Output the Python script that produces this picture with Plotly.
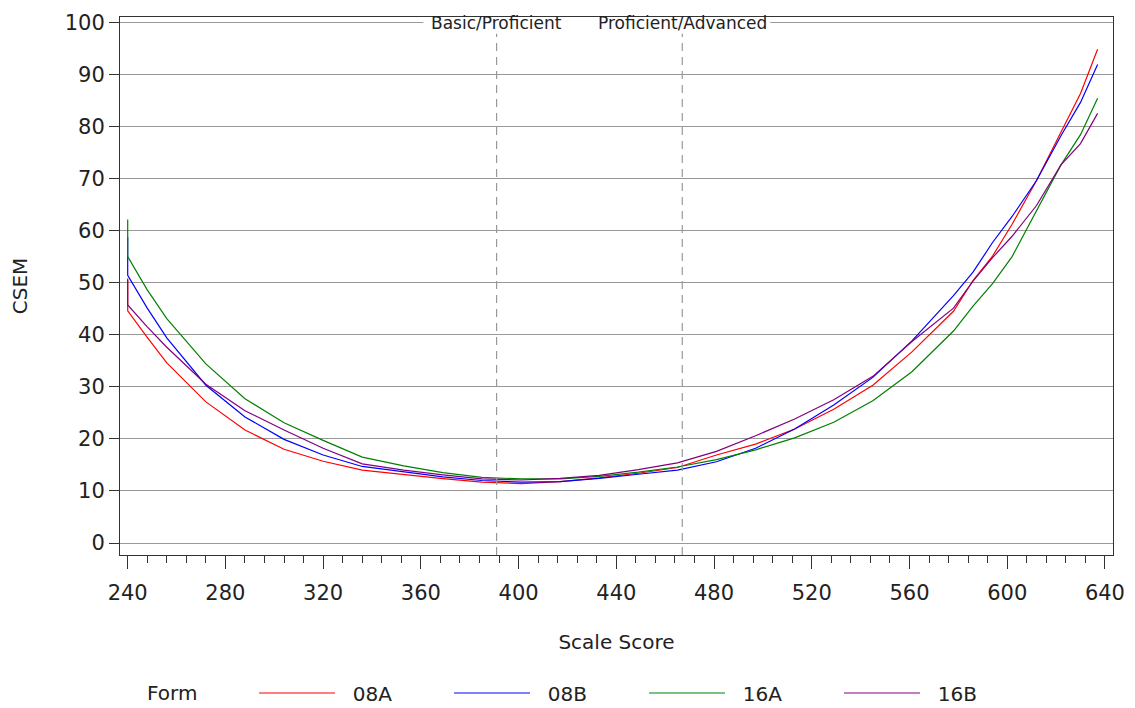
import plotly.graph_objects as go

# Scale score (x) values at which CSEM is plotted; first two points both at LOSS 240
scale_score = [240, 240, 248, 256, 272, 288, 304, 320, 336, 353, 369, 385, 401, 417, 433,
               449, 465, 481, 497, 513, 529, 545, 561, 578, 586, 594, 602, 612, 622, 630, 637]

csem_08A = [50.5, 44.6, 39.5, 34.6, 27.1, 21.7, 18.0, 15.7, 14.0, 13.1, 12.35, 11.7, 11.4, 11.8, 12.5,
            13.4, 14.5, 16.9, 19.0, 21.9, 25.7, 30.3, 36.7, 44.5, 50.4, 55.1, 61.2, 69.6, 78.8, 86.3, 94.8]
csem_08B = [58.7, 51.4, 45.1, 39.4, 30.3, 24.2, 19.9, 16.9, 14.7, 13.6, 12.7, 12.0, 11.7, 11.8, 12.4,
            13.2, 14.0, 15.6, 18.2, 21.9, 26.5, 31.8, 38.8, 47.5, 52.0, 57.7, 62.7, 69.6, 78.2, 84.6, 91.9]
csem_16A = [62.1, 55.0, 48.6, 43.1, 34.4, 27.7, 23.1, 19.7, 16.5, 14.8, 13.5, 12.6, 12.3, 12.3, 12.8,
            13.6, 14.6, 16.0, 17.9, 20.2, 23.2, 27.3, 32.9, 40.7, 45.5, 49.8, 55.0, 63.7, 72.6, 78.4, 85.4]
csem_16B = [50.8, 45.7, 41.5, 37.6, 30.5, 25.4, 21.7, 18.2, 15.2, 14.0, 13.1, 12.3, 12.1, 12.4, 13.0,
            14.1, 15.4, 17.6, 20.6, 23.8, 27.5, 32.0, 38.7, 45.1, 50.3, 54.8, 58.9, 64.8, 72.6, 76.7, 82.5]

forms = ["08A", "08B", "16A", "16B"]
series = [csem_08A, csem_08B, csem_16A, csem_16B]
colors = ["#ff0000", "#0000ff", "#008000", "#800080"]

cut_scores = [391, 467]
cut_labels = ["Basic/Proficient", "Proficient/Advanced"]

x_ticks = list(range(240, 641, 40))
y_ticks = list(range(0, 101, 10))

FONT = "DejaVu Sans, sans-serif"
TXT = "#222222"

fig = go.Figure()
for name, vals, col in zip(forms, series, colors):
    fig.add_trace(go.Scatter(x=scale_score, y=vals, mode="lines", name="\u00a0\u00a0" + name,
                             line=dict(color=col, width=1.2)))

# dashed cut score reference lines
for c in cut_scores:
    fig.add_shape(type="line", x0=c, x1=c, y0=-2.3, y1=97.8, xref="x", yref="y",
                  line=dict(color="#999999", width=1.2, dash="8px,6px"), layer="above")

# white band behind the labels covering the top gridline
fig.add_shape(type="rect", x0=361, x1=503, y0=98.6, y1=100.8, xref="x", yref="y",
              fillcolor="white", line=dict(width=0), layer="above")
for c, lab in zip(cut_scores, cut_labels):
    fig.add_annotation(x=c, y=99.8, xref="x", yref="y", text=lab, showarrow=False,
                       font=dict(family=FONT, size=17, color=TXT), xanchor="center", yanchor="middle")

fig.add_annotation(x=0.0252, y=-0.2565, xref="paper", yref="paper", text="Form", showarrow=False,
                   font=dict(family=FONT, size=20, color=TXT), xanchor="left", yanchor="middle")

fig.update_layout(
    width=1127, height=700,
    margin=dict(l=112, r=22, t=9, b=153, autoexpand=False),
    plot_bgcolor="white", paper_bgcolor="white",
    font=dict(family=FONT, size=20, color=TXT),
    legend=dict(orientation="h", x=0.135, y=-0.2565, xanchor="left", yanchor="middle",
                font=dict(family=FONT, size=20, color=TXT), itemwidth=76,
                entrywidth=104, entrywidthmode="pixels", bgcolor="rgba(0,0,0,0)"),
    xaxis=dict(range=[236.85, 643.3], tickvals=x_ticks, ticks="outside", ticklen=13, tickwidth=1,
               tickcolor="#333", showline=True, linecolor="#333", linewidth=1, mirror=True,
               showgrid=False, zeroline=False, ticklabelstandoff=6, automargin=False,
               minor=dict(dtick=8, tick0=240, ticks="outside", ticklen=7, tickcolor="#333", showgrid=False),
               title=dict(text="Scale Score", standoff=30, font=dict(family=FONT, size=20, color=TXT)),
               tickfont=dict(family=FONT, size=21, color=TXT)),
    yaxis=dict(range=[-2.3, 101.0], tickvals=y_ticks, ticks="outside", ticklen=10, tickwidth=1,
               tickcolor="#333", showline=True, linecolor="#333", linewidth=1, mirror=True,
               showgrid=True, gridcolor="#999999", gridwidth=1, zeroline=False, automargin=False,
               title=dict(text="CSEM", standoff=32, font=dict(family=FONT, size=20, color=TXT)),
               tickfont=dict(family=FONT, size=21, color=TXT)),
)

fig.write_html("out.html")
